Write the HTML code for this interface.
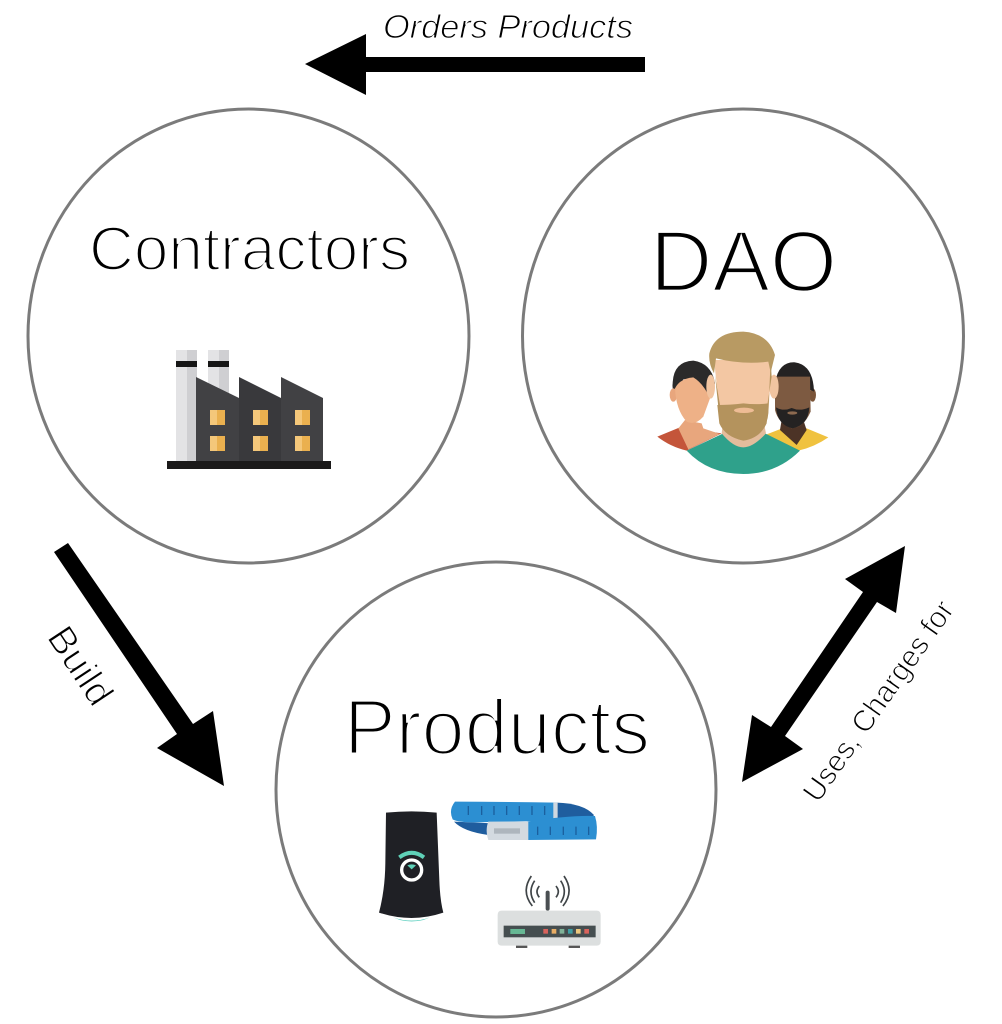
<!DOCTYPE html>
<html>
<head>
<meta charset="utf-8">
<style>
html,body{margin:0;padding:0;background:#fff;width:1002px;height:1024px;overflow:hidden}
svg{display:block}
text{font-family:"Liberation Sans",sans-serif;fill:#000}
.thin{stroke:#fff}
</style>
</head>
<body>
<svg width="1002" height="1024" viewBox="0 0 1002 1024" xmlns="http://www.w3.org/2000/svg">
<rect width="1002" height="1024" fill="#fff"/>
<g fill="none" stroke="#7b7b7b" stroke-width="3">
<ellipse cx="248.5" cy="336" rx="220.5" ry="227"/>
<ellipse cx="743" cy="336" rx="220.5" ry="227"/>
<ellipse cx="496" cy="789.5" rx="220" ry="227.5"/>
</g>

<!-- arrows -->
<polygon fill="#000" points="305,64 366,34 366,57 645,57 645,72 366,72 366,95"/>
<polygon fill="#000" points="54,552 68,543 193,724 213,711 224,786 157,748 177,734"/>
<polygon fill="#000" points="905,546 896,613 877,602 785,736 803,749 742,782 752,715 771,727 863,592 845,579"/>

<!-- labels -->
<text class="thin" x="89" y="270" font-size="62" stroke-width="2.4" textLength="321" lengthAdjust="spacingAndGlyphs">Contractors</text>
<text class="thin" x="650" y="291" font-size="86" stroke-width="2.7" textLength="187" lengthAdjust="spacingAndGlyphs">DAO</text>
<text class="thin" x="344" y="754" font-size="78" stroke-width="3" textLength="306" lengthAdjust="spacingAndGlyphs">Products</text>
<text class="thin" x="383" y="38" font-size="33" font-style="italic" stroke-width="1" textLength="250" lengthAdjust="spacingAndGlyphs">Orders Products</text>
<text class="thin" transform="translate(46,637) rotate(56.5)" font-size="38" stroke-width="1.2" textLength="86" lengthAdjust="spacingAndGlyphs">Build</text>
<text class="thin" transform="translate(818,804) rotate(-54.8)" font-size="30" stroke-width="1" textLength="238" lengthAdjust="spacingAndGlyphs">Uses, Charges for</text>

<!-- factory -->
<g>
<rect x="176" y="350" width="21" height="112" fill="#e3e3e5"/>
<rect x="187" y="350" width="10" height="112" fill="#cfcfd2"/>
<rect x="208" y="350" width="21" height="50" fill="#e3e3e5"/>
<rect x="219" y="350" width="10" height="50" fill="#cfcfd2"/>
<rect x="176" y="361" width="21" height="6" fill="#161616"/>
<rect x="208" y="361" width="21" height="6" fill="#161616"/>
<polygon fill="#414144" points="196,377 239,398 239,461 196,461"/>
<polygon fill="#39393c" points="239,377 281,398 281,461 239,461"/>
<polygon fill="#414144" points="281,377 323,398 323,461 281,461"/>
<rect x="167" y="461" width="164" height="8" fill="#1b1a1a"/>
<g fill="#eab04f">
<rect x="210" y="410" width="15" height="15"/><rect x="253" y="410" width="15" height="15"/><rect x="295" y="410" width="15" height="15"/>
<rect x="210" y="436" width="15" height="15"/><rect x="253" y="436" width="15" height="15"/><rect x="295" y="436" width="15" height="15"/>
</g>
<g fill="#f4c77a">
<rect x="210" y="410" width="7" height="15"/><rect x="253" y="410" width="7" height="15"/><rect x="295" y="410" width="7" height="15"/>
<rect x="210" y="436" width="7" height="15"/><rect x="253" y="436" width="7" height="15"/><rect x="295" y="436" width="7" height="15"/>
</g>
</g>

<!-- people: zoomed coordinates -->
<g transform="translate(640,320) scale(.3333)">
<path fill="#c4553a" d="M52 350 L125 320 L175 330 L245 340 L140 392 Q90 380 52 350Z"/>
<path fill="#f0c23f" d="M375 345 L440 320 L500 325 L565 352 Q525 380 475 392Z"/>
<path fill="#e8a67d" d="M115 325 L135 300 L185 310 L190 325 L240 342 L145 388Z"/>
<path fill="#2b2a2a" d="M98 190 Q100 125 160 122 Q215 130 225 190 L205 230 Q180 170 130 178 L108 225Q95 210 98 190Z"/>
<ellipse cx="100" cy="225" rx="11" ry="20" fill="#e8a67d"/>
<path fill="#eeb187" d="M105 205 Q120 175 160 172 Q190 190 210 235 L190 290 Q165 318 140 305 Q108 270 105 205Z"/>
<path fill="#4c3326" d="M420 330 L425 300 L490 300 L500 330 L470 375Z"/>
<ellipse cx="518" cy="225" rx="10" ry="20" fill="#7a5438"/>
<path fill="#242222" d="M405 190 Q415 125 465 127 Q520 135 522 215 L512 210 L410 220Z"/>
<path fill="#7d5a41" d="M405 170 L510 170 L512 275 Q490 325 455 325 Q415 310 405 270Z"/>
<path fill="#242222" d="M408 262 Q430 275 455 264 Q480 275 508 262 Q505 315 458 325 Q412 315 408 262Z"/>
<ellipse cx="457" cy="279" rx="15" ry="5" fill="#8d6a50"/>
<path fill="#2fa18b" d="M140 392 L250 340 L375 340 L480 392 Q410 462 310 462 Q205 462 140 392Z"/>
<path fill="#e3bc9c" d="M245 340 L250 300 L370 300 L378 340 Q340 382 310 382 Q280 382 245 340Z"/>
<ellipse cx="212" cy="200" rx="13" ry="36" fill="#f1c4a0"/>
<ellipse cx="402" cy="200" rx="14" ry="36" fill="#f1c4a0"/>
<path fill="#f3c7a3" d="M222 120 L395 120 L385 280 L240 280Z"/>
<path fill="#b4935d" d="M225 165 L240 255 Q270 270 310 258 Q350 270 382 255 L395 170 L392 120 L385 280 Q380 345 310 362 Q240 345 238 290Z"/>
<path fill="#b4935d" d="M232 255 Q270 255 310 250 Q350 255 384 250 L380 310 Q360 355 310 362 Q255 350 238 310Z"/>
<ellipse cx="312" cy="271" rx="30" ry="8" fill="#eebc95"/>
<path fill="#b89a63" d="M208 100 Q225 35 310 35 Q385 40 405 105 L392 158 L385 125 Q310 135 228 115 L222 160 Q205 130 208 100Z"/>
</g>

<!-- products: zoomed coordinates -->
<g transform="translate(360,780) scale(.3333)">
<path fill="#3fc7b4" d="M100 412 Q155 432 210 412 L190 420 Q155 428 120 420Z"/>
<path fill="#1f2025" d="M78 98 Q155 90 230 98 L238 300 Q240 360 250 398 Q155 430 57 398 Q75 330 76 250Z"/>
<circle cx="155" cy="270" r="30" fill="#1f2025" stroke="#fff" stroke-width="10"/>
<path fill="none" stroke="#5fd1b8" stroke-width="12" d="M118 232 Q155 205 192 232"/>
<path fill="#5fd1b8" d="M142 256 Q155 250 168 256 L155 268Z"/>

<path fill="#1f5d9e" d="M590 68 Q670 70 702 105 L695 115 L590 122Z"/>
<path fill="#1f5d9e" d="M282 125 L400 130 L385 165 Q310 155 282 125Z"/>
<path fill="#2c8fd2" d="M285 65 Q430 65 590 68 L590 122 L385 126 Q300 130 278 118 Q265 90 285 65Z"/>
<rect x="580" y="68" width="13" height="54" fill="#cfd8e0"/>
<path fill="#2c8fd2" d="M500 125 Q630 105 705 108 Q715 140 708 178 L500 180Z"/>
<path fill="#d3dae0" d="M385 125 L505 125 L505 180 L385 180 Q375 150 385 125Z"/>
<rect x="402" y="145" width="78" height="16" fill="#aeb6bd"/>
<g stroke="#1b5f9e" stroke-width="4">
<path d="M325 78V105M365 78V105M402 78V105M440 78V105M478 78V105M516 78V105M554 78V105"/>
<path d="M533 140V165M571 140V165M610 140V165M648 140V165M686 140V165"/>
</g>

<path fill="#dcdfdf" d="M425 392 L710 392 Q722 392 722 405 L722 485 Q722 497 710 497 L425 497 Q413 497 413 485 L413 405 Q413 392 425 392Z"/>
<rect x="431" y="437" width="276" height="35" fill="#454e50"/>
<rect x="451" y="447" width="44" height="15" fill="#66b894"/>
<rect x="550" y="447" width="14" height="14" fill="#d9635c"/>
<rect x="575" y="447" width="14" height="14" fill="#e8ad65"/>
<rect x="599" y="447" width="14" height="14" fill="#7fb298"/>
<rect x="624" y="447" width="14" height="14" fill="#3e9ea4"/>
<rect x="648" y="447" width="14" height="14" fill="#ecc77d"/>
<rect x="673" y="447" width="14" height="14" fill="#d9635c"/>
<rect x="468" y="497" width="34" height="7" fill="#555"/>
<rect x="626" y="497" width="34" height="7" fill="#555"/>
<rect x="557" y="332" width="12" height="60" rx="6" fill="#4a4f52"/>
<g fill="none" stroke="#3f4447" stroke-width="5">
<path d="M538 318 Q524 335 538 352"/>
<path d="M524 302 Q502 335 524 368"/>
<path d="M514 288 Q482 335 517 378"/>
<path d="M588 318 Q602 335 588 352"/>
<path d="M602 302 Q624 335 602 368"/>
<path d="M612 288 Q644 335 609 378"/>
</g>
</g>
</svg>
</body>
</html>
